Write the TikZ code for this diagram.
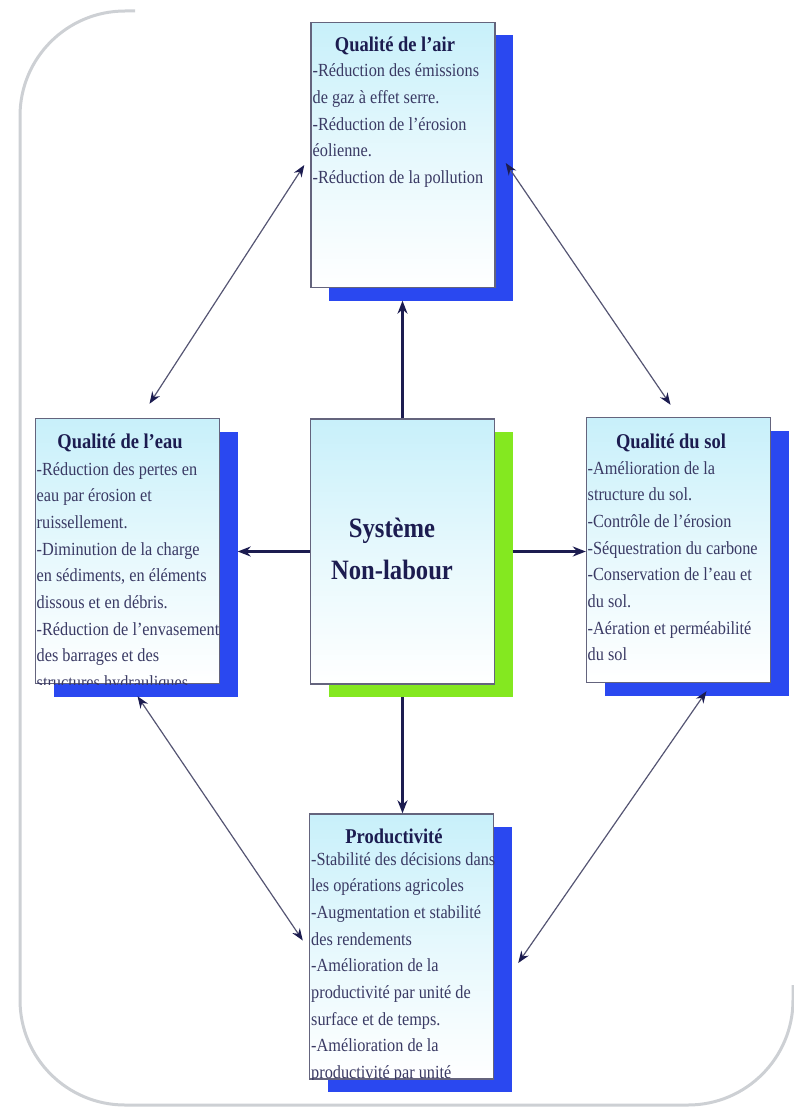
\documentclass[tikz,border=0pt]{standalone}
\usepackage{fontspec}
\setmainfont{Liberation Serif}[FakeStretch=0.88]
\usetikzlibrary{arrows.meta,calc}
\definecolor{sblue}{RGB}{42,72,240}
\definecolor{sgreen}{RGB}{132,232,32}
\definecolor{bfill}{RGB}{200,240,250}
\definecolor{bframe}{RGB}{100,100,125}
\definecolor{navy}{RGB}{28,28,80}
\definecolor{bodyc}{RGB}{58,58,100}
\definecolor{dline}{RGB}{85,85,115}
\definecolor{framec}{RGB}{205,208,212}
\tikzset{
  panel/.style={draw=bframe, line width=1.4pt, top color=bfill, bottom color=white, middle color=bfill!45,
    minimum width=184pt, minimum height=265pt, inner sep=0pt},
  shadowbox/.style={minimum width=184pt, minimum height=265pt, inner sep=0pt, fill=#1},
  ttl/.style={font=\fontsize{21}{24}\selectfont\bfseries, text=navy, anchor=base, inner sep=0pt},
  bodyline/.style={font=\fontsize{18.5}{22}\selectfont, text=bodyc, anchor=base west, inner sep=0pt},
  mainarrow/.style={draw=navy, line width=2.2pt, -{Stealth[length=13pt,width=10pt]}},
  diagarrow/.style={draw=dline, line width=1.2pt,
    {Stealth[length=12pt,width=9pt,color=navy]}-{Stealth[length=12pt,width=9pt,color=navy]}},
  outline/.style={draw=framec, line width=3pt, rounded corners=105pt}
}
\begin{document}
\begin{tikzpicture}[x=1pt,y=-1pt]
\useasboundingbox (0,0) rectangle (794,1108);
% outer frame
\draw[outline] (135,11) -- (20,11) -- (20,1105) -- (793,1105) -- (793,985);

% shadows
\node[shadowbox=sblue]  (airS)  at (421,168) {};
\node[shadowbox=sblue]  (eauS)  at (145.5,564) {};
\node[shadowbox=sblue]  (solS)  at (696.5,563) {};
\node[shadowbox=sgreen] (ctrS)  at (420.5,564.5) {};
\node[shadowbox=sblue]  (prodS) at (419.5,959.5) {};

% panels
\node[panel] (air)  at (403,155) {};
\node[panel] (eau)  at (127.5,551) {};
\node[panel] (sol)  at (678.5,550) {};
\node[panel] (ctr)  at (402.5,551.5) {};
\node[panel] (prod) at (401.5,946.5) {};

% titles
\node[ttl] (airT)  at (395,52)  {Qualité de l’air};
\node[ttl] (eauT)  at (120,448) {Qualité de l’eau};
\node[ttl] (solT)  at (671,448) {Qualité du sol};
\node[ttl] (prodT) at (394,843) {Productivité};
\node[font=\fontsize{28}{42}\selectfont\bfseries, text=navy, align=center, inner sep=0pt] (ctrT) at (392,549) {Système\\Non-labour};

% bodies
\begin{scope}
\clip (air.north west) rectangle (air.south east);
\foreach \t [count=\i from 0] in {-Réduction des émissions, de gaz à effet serre., -Réduction de l’érosion, éolienne., -Réduction de la pollution}
  \node[bodyline] (air-l\i) at (312.5,{77+26.6*\i}) {\t};
\end{scope}
\begin{scope}
\clip (eau.north west) rectangle (eau.south east);
\foreach \t [count=\i from 0] in {-Réduction des pertes en, eau par érosion et, ruissellement., -Diminution de la charge, {en sédiments, en éléments}, dissous et en débris., -Réduction de l’envasement, des barrages et des, structures hydrauliques}
  \node[bodyline] (eau-l\i) at (36.5,{475+26.7*\i}) {\t};
\end{scope}
\begin{scope}
\clip (sol.north west) rectangle (sol.south east);
\foreach \t [count=\i from 0] in {-Amélioration de la, structure du sol., -Contrôle de l’érosion, -Séquestration du carbone, -Conservation de l’eau et, du sol., -Aération et perméabilité, du sol}
  \node[bodyline] (sol-l\i) at (587.5,{474+26.7*\i}) {\t};
\end{scope}
\begin{scope}
\clip (prod.north west) rectangle (prod.south east);
\foreach \t [count=\i from 0] in {-Stabilité des décisions dans, les opérations agricoles, -Augmentation et stabilité, des rendements, -Amélioration de la, productivité par unité de, surface et de temps., -Amélioration de la, productivité par unité}
  \node[bodyline] (prod-l\i) at (311,{865+26.7*\i}) {\t};
\end{scope}

% main arrows
\draw[mainarrow] (ctr.north) -- (ctr.north |- airS.south);
\draw[mainarrow] (ctr.west) -- (eauS.east |- ctr.west);
\draw[mainarrow] (ctrS.east |- ctr.east) -- (sol.west |- ctr.east);
\draw[mainarrow] (ctr.south |- ctrS.south) -- (ctr.south |- prod.north);

% diagonal double arrows
\draw[diagarrow] ([shift={(-6,10)}]air.west) -- ([shift={(22,-14)}]eau.north);
\draw[diagarrow] ([shift={(10,8)}]air.east) -- ([shift={(-8,-12)}]sol.north);
\draw[diagarrow] ([shift={(10,12)}]eau.south) -- ([shift={(-6,-6)}]prod.west);
\draw[diagarrow] ([shift={(28,8)}]sol.south) -- ([shift={(24,16.5)}]prod.east);
\end{tikzpicture}
\end{document}
